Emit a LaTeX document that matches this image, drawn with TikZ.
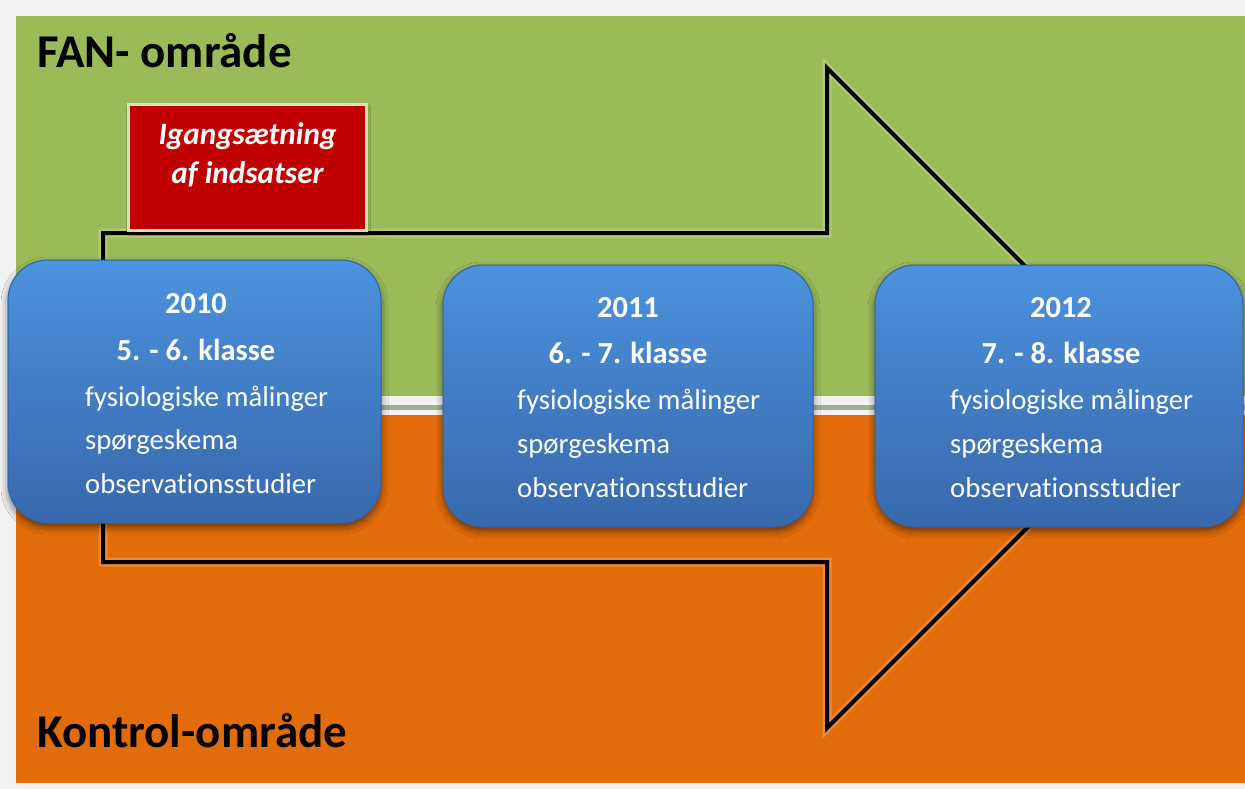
\documentclass[tikz,border=0pt]{standalone}
\usepackage{fontspec}
\setmainfont{Carlito}[Ligatures=NoCommon]
\usetikzlibrary{shadows.blur}

\definecolor{pagegray}{HTML}{F2F2F2}
\definecolor{fangreen}{HTML}{9BBB59}
\definecolor{ctrlorange}{HTML}{E36C0A}
\definecolor{seamgray}{HTML}{A3B194}
\definecolor{startred}{HTML}{C00000}
\definecolor{startedge}{HTML}{D4E2B6}
\definecolor{boxtop}{HTML}{4C92DE}
\definecolor{boxmid}{HTML}{3F7DCB}
\definecolor{boxbot}{HTML}{3868AC}
\definecolor{boxedge}{HTML}{3563A3}

\tikzset{
  areatitle/.style={font=\bfseries\fontsize{47}{56}\selectfont, text=black, anchor=base west, inner sep=0pt},
  yearbox/.style={rounded corners=40pt, inner sep=0pt, draw=boxedge, line width=1pt,
    top color=boxtop, middle color=boxmid, bottom color=boxbot,
    blur shadow={shadow xshift=0pt, shadow yshift=-4pt, shadow blur radius=7pt, shadow opacity=55}},
  headline/.style={font=\bfseries\fontsize{30.5}{36}\selectfont, text=white, anchor=base, inner sep=0pt},
  itemline/.style={font=\fontsize{28.7}{34}\selectfont, text=white, anchor=base west, inner sep=0pt},
  startbox/.style={fill=startred, draw=startedge, line width=3pt, inner sep=0pt,
    minimum width=238pt, minimum height=126pt,
    blur shadow={shadow xshift=1pt, shadow yshift=-2pt, shadow blur radius=3pt, shadow opacity=35}},
  starttext/.style={font=\bfseries\itshape\fontsize{31.2}{36}\selectfont, text=white, anchor=base, inner sep=0pt},
  arrowline/.style={draw=black, line width=4pt, line join=miter},
  arrowglow/.style={draw=white, line width=9pt, opacity=0.2, line join=miter},
}

\begin{document}
\begin{tikzpicture}[x=1pt,y=-1pt]
\useasboundingbox (0,0) rectangle (1245,789);
\fill[pagegray] (0,0) rectangle (1245,789);

% the two areas and the seam between them
\fill[fangreen] (16,16) rectangle (1245,396);
\fill[ctrlorange] (16,415) rectangle (1245,783);
\fill[seamgray] (16,405) rectangle (1245,410);

\node[areatitle] (fan) at (37,68) {FAN- område};
\node[areatitle] (kontrol) at (37,747) {Kontrol-område};

% timeline arrow
\coordinate (tailtop) at (103,233);
\coordinate (neck) at (827,233);
\coordinate (barbtop) at (827,68);
\coordinate (tip) at (1157,398);
\coordinate (barbbot) at (827,728);
\coordinate (neckbot) at (827,562);
\coordinate (tailbot) at (103,562);
\path[arrowglow] (tailtop) -- (neck) -- (barbtop) -- (tip) -- (barbbot) -- (neckbot) -- (tailbot) -- cycle;
\path[arrowline] (tailtop) -- (neck) -- (barbtop) -- (tip) -- (barbbot) -- (neckbot) -- (tailbot) -- cycle;

% start of the interventions
\node[startbox] (start) at (247.5,167.5) {};
\node[starttext] (start1) at (247.5,145) {Igangsætning};
\node[starttext] (start2) at (247.5,183) {af indsatser};

% yearly measurement rounds
\node[yearbox, minimum width=373pt, minimum height=263pt] (y2010) at (194.5,391.5) {};
\node[yearbox, minimum width=370pt, minimum height=262pt] (y2011) at (628,396) {};
\node[yearbox, minimum width=368pt, minimum height=262pt] (y2012) at (1059,396) {};

\node[headline] (h2010) at (196,313) {2010};
\node[headline] (k2010) at (196,360) {5. - 6. klasse};
\node[itemline] (a2010) at (85,406) {fysiologiske målinger};
\node[itemline] (b2010) at (85,449) {spørgeskema};
\node[itemline] (c2010) at (85,493) {observationsstudier};

\node[headline] (h2011) at (628,317) {2011};
\node[headline] (k2011) at (628,363) {6. - 7. klasse};
\node[itemline] (a2011) at (517,409) {fysiologiske målinger};
\node[itemline] (b2011) at (517,453) {spørgeskema};
\node[itemline] (c2011) at (517,497) {observationsstudier};

\node[headline] (h2012) at (1061,317) {2012};
\node[headline] (k2012) at (1061,363) {7. - 8. klasse};
\node[itemline] (a2012) at (950,409) {fysiologiske målinger};
\node[itemline] (b2012) at (950,453) {spørgeskema};
\node[itemline] (c2012) at (950,497) {observationsstudier};
\end{tikzpicture}
\end{document}
